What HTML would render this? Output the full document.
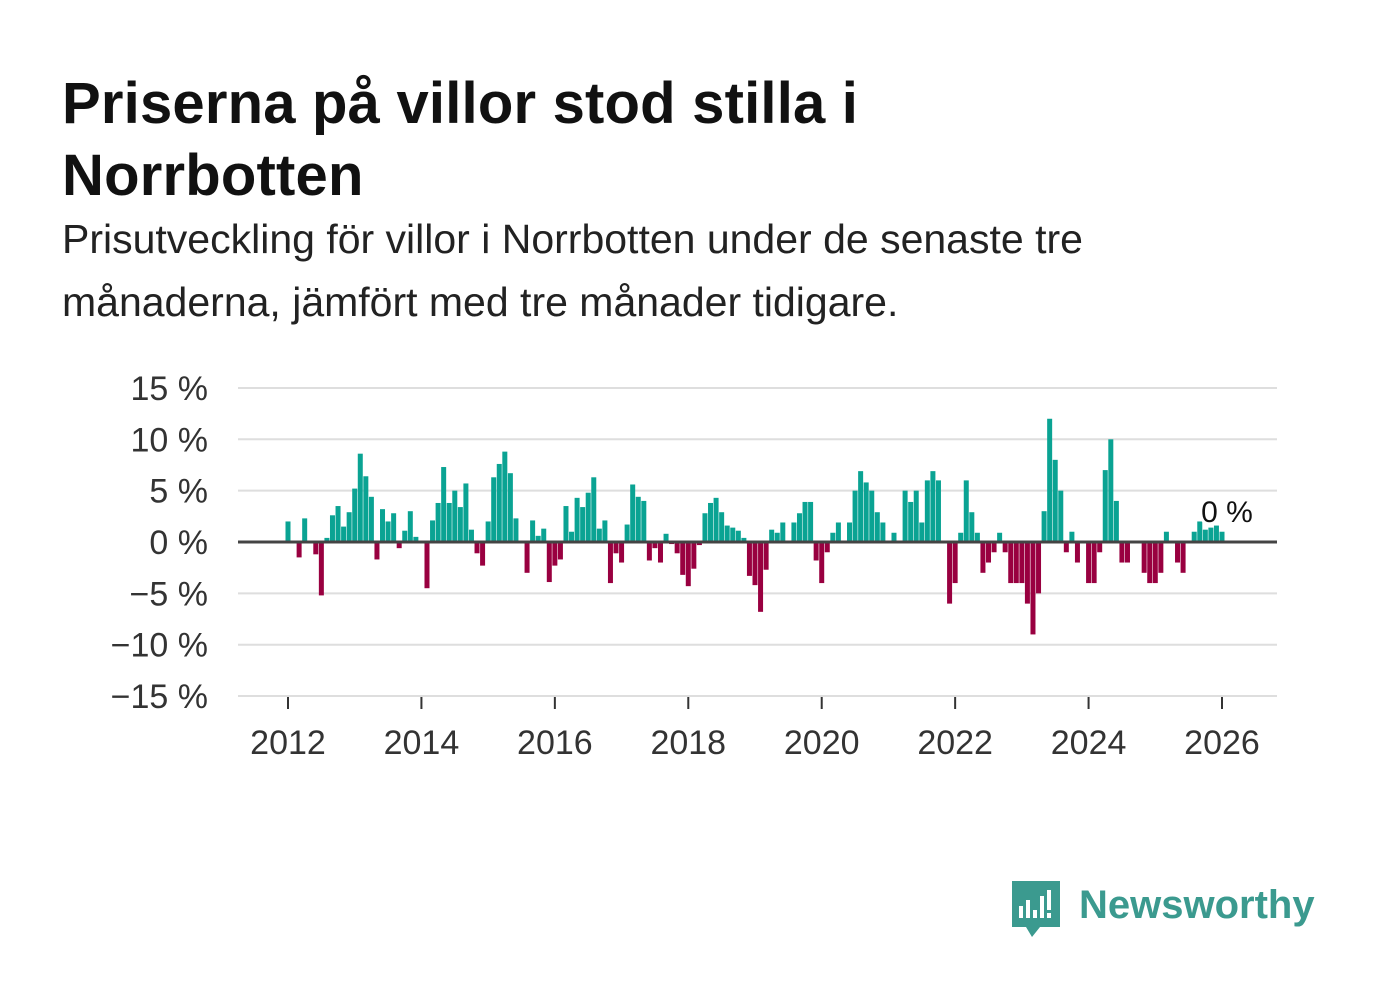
<!DOCTYPE html>
<html><head><meta charset="utf-8">
<style>
body{margin:0;background:#fff;width:1382px;height:999px;overflow:hidden;font-family:"Liberation Sans",sans-serif;}
h1{position:absolute;left:62px;top:68px;margin:0;font-size:58px;line-height:72px;font-weight:bold;color:#111;letter-spacing:0.2px}
p.sub{position:absolute;left:62px;top:208px;margin:0;font-size:41px;line-height:63px;color:#222;width:1240px}
svg{position:absolute;left:0;top:0}
</style></head><body>
<h1>Priserna på villor stod stilla i<br>Norrbotten</h1>
<p class="sub">Prisutveckling för villor i Norrbotten under de senaste tre månaderna, jämfört med tre månader tidigare.</p>
<svg id="chart" width="1382" height="999"></svg>
<script>
const startYear = 2012;
const values = [2,0,-1.5,2.3,0,-1.2,-5.2,0.4,2.6,3.5,1.5,2.9,5.2,8.6,6.4,4.4,-1.7,3.2,2,2.8,-0.6,1.1,3,0.5,0,-4.5,2.1,3.8,7.3,3.8,5,3.4,5.7,1.2,-1.1,-2.3,2,6.3,7.6,8.8,6.7,2.3,0,-3,2.1,0.6,1.3,-3.9,-2.3,-1.7,3.5,1,4.3,3.4,4.8,6.3,1.3,2.1,-4,-1.1,-2,1.7,5.6,4.4,4,-1.8,-0.6,-2,0.8,-0.2,-1.1,-3.2,-4.3,-2.6,-0.3,2.8,3.8,4.3,2.9,1.6,1.4,1.1,0.4,-3.3,-4.2,-6.8,-2.7,1.2,0.9,1.9,0,1.9,2.8,3.9,3.9,-1.8,-4,-1,0.9,1.9,0,1.9,5,6.9,5.8,5,2.9,1.9,0,0.9,0,5,3.9,5,1.9,6,6.9,6,0,-6,-4,0.9,6,2.9,0.9,-3,-2,-1,0.9,-1,-4,-4,-4,-6,-9,-5,3,12,8,5,-1,1,-2,0,-4,-4,-1,7,10,4,-2,-2,0,0,-3,-4,-4,-3,1,0,-2,-3,0,1,2,1.2,1.4,1.6,1.0];
const yTicks = [15,10,5,0,-5,-10,-15];
const xTicks = [2012,2014,2016,2018,2020,2022,2024,2026];
const NS='http://www.w3.org/2000/svg';
const svg=document.getElementById('chart');
const X0=288, X1=1222, Y0=542, PXP=10.27;
const xm = m => X0 + (X1-X0)*m/168;
const yv = v => Y0 - v*PXP;
function mk(tag,attrs,parent){const e=document.createElementNS(NS,tag);for(const k in attrs)e.setAttribute(k,attrs[k]);(parent||svg).appendChild(e);return e;}
yTicks.forEach(t=>{
  if(t!==0){const l=mk('line',{x1:238,x2:1277,y1:yv(t),y2:yv(t),stroke:'#dedede','stroke-width':2});
  
  }
  const tx=mk('text',{x:208,y:yv(t)+12,'text-anchor':'end','font-size':34,fill:'#333','font-family':'Liberation Sans, sans-serif'});
  tx.textContent=(t<0?'\u2212'+(-t):t)+' %';
  
  
});
values.forEach((v,i)=>{
  const x=xm(i)-2.5;
  const r=mk('rect',{x:x,width:5,y:v>=0?yv(v):Y0,height:Math.abs(v)*PXP,fill:v>=0?'#0aa393':'#990040'});
  
  
});
const z=mk('line',{x1:238,x2:1277,y1:Y0,y2:Y0,stroke:'#444','stroke-width':3});


xTicks.forEach(y=>{
  const x=xm((y-startYear)*12);
  const t=mk('line',{x1:x,x2:x,y1:697,y2:709,stroke:'#333','stroke-width':2});
  
  
  const tx=mk('text',{x:x,y:754,'text-anchor':'middle','font-size':34,fill:'#333','font-family':'Liberation Sans, sans-serif'});
  tx.textContent=y;
  
  
});
const lab=mk('text',{x:1227,y:522,'text-anchor':'middle','font-size':30,fill:'#111',stroke:'#fff','stroke-width':6,'paint-order':'stroke','font-family':'Liberation Sans, sans-serif'});
lab.textContent='0 %';


</script>
<svg width="1382" height="999" style="pointer-events:none">
  <path d="M1012 881 h48 v46 h-20 l-8 10 l-6 -10 h-14 z" fill="#3b9a8f"/>
  <rect x="1019" y="906" width="4" height="12" fill="#fff"/>
  <rect x="1026" y="900" width="4" height="18" fill="#fff"/>
  <rect x="1033" y="910" width="4" height="8" fill="#fff"/>
  <rect x="1040" y="896" width="4" height="22" fill="#fff"/>
  <rect x="1047" y="890" width="4" height="20" fill="#fff"/>
  <rect x="1047" y="913" width="4" height="5" fill="#fff"/>
  <text x="1079" y="918" font-size="40" font-weight="bold" fill="#3b9a8f" font-family="Liberation Sans, sans-serif">Newsworthy</text>
</svg>
</body></html>
